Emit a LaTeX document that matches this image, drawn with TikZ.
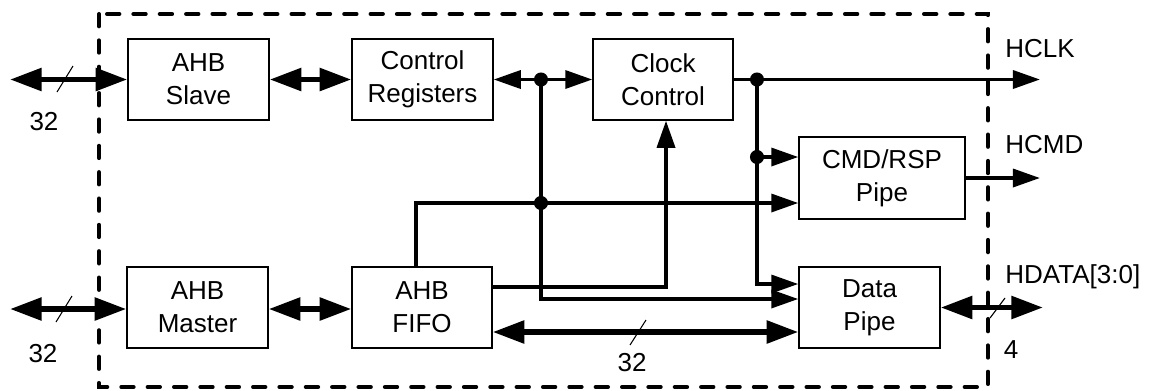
\documentclass[tikz,border=0pt]{standalone}
\usepackage{fontspec}
\setmainfont{Liberation Sans}
\usetikzlibrary{arrows.meta}
\begin{document}
\begin{tikzpicture}[x=0.02cm,y=-0.02cm,
  box/.style={draw,line width=0.8pt,inner sep=0pt,align=center,minimum height=1.62cm,font=\fontsize{14.8}{18.7}\selectfont},
  lbl/.style={inner sep=0pt,font=\fontsize{14.8}{18.7}\selectfont},
  sig/.style={line width=2.1pt,>={Triangle[length=15.4pt,width=10.2pt]}},
  bus/.style={line width=3.2pt,>={Triangle[length=18pt,width=12.5pt]}},
  slash/.style={line width=0.6pt},
  frame/.style={line width=2.3pt,dash pattern=on 7pt off 8pt,line cap=round},
  dot/.style={fill=black}
]
\useasboundingbox (0,0) rectangle (1158,390);
\draw[frame] (99,14) rectangle (988,387);

\node[box, minimum width=2.82cm] (slave) at (198.5,79.5) {AHB\\Slave};
\node[box, minimum width=2.82cm] (creg) at (422.5,79.5) {Control\\Registers};
\node[box, minimum width=2.80cm] (clk) at (663,79.5) {Clock\\Control};
\node[box, minimum width=3.32cm, minimum height=1.64cm] (cmd) at (882,178) {CMD/RSP\\Pipe};
\node[box, minimum width=2.82cm] (master) at (197.5,307.5) {AHB\\Master};
\node[box, minimum width=2.80cm] (fifo) at (422,307.5) {AHB\\FIFO};
\node[box, minimum width=2.82cm] (data) at (869.5,307.5) {Data\\Pipe};

\coordinate (inT) at (10,79.5);
\coordinate (inB) at (10,309);
\coordinate (hclk) at (1040,79.5);
\coordinate (hcmd) at (1040,178);
\coordinate (hdata) at (1043,309);
\coordinate (j1) at (541,79.5);
\coordinate (j2) at (541,203);
\coordinate (j3) at (757,79.5);
\coordinate (j4) at (757,157);
\coordinate (a1) at (541,299);
\coordinate (b1) at (757,284);
\coordinate (c0) at (416,203);
\coordinate (e1) at (666,287);
\coordinate (f1) at (600,332);

% buses
\draw[bus,<->] (inT) -- (slave.west);
\draw[bus,<->] (slave) -- (creg);
\draw[bus,<->] (inB) -- (master.west |- inB);
\draw[bus,<->] (master.east |- inB) -- (fifo.west |- inB);
\draw[bus,<->] (fifo.east |- f1) -- (data.west |- f1);
\draw[bus,<->] (data.east) -- (data.east -| hdata);

% signals
\draw[sig,<->] (creg) -- (clk);
\draw[sig,->] (clk.east) -- (hclk);
\draw[sig,->] (j1) -- (a1) -- (data.west |- a1);
\draw[sig,->] (j3) -- (b1) -- (data.west |- b1);
\draw[sig,->] (j4) -- (cmd.west |- j4);
\draw[sig,->] (fifo.north -| c0) -- (c0) -- (cmd.west |- c0);
\draw[sig,->] (fifo.east |- e1) -- (e1) -- (clk.south -| e1);
\draw[sig,->] (cmd.east) -- (cmd.east -| hcmd);

\fill[dot] (j1) circle[radius=4pt];
\fill[dot] (j2) circle[radius=4pt];
\fill[dot] (j3) circle[radius=4pt];
\fill[dot] (j4) circle[radius=4pt];

% bus width slashes
\draw[slash] (57,92) -- (73,66);
\draw[slash] (56,322) -- (72,296);
\draw[slash] (630,345) -- (646,320);
\draw[slash] (990,318) -- (1005,298);

\node[lbl,anchor=base] (w1) at (44,130) {32};
\node[lbl,anchor=base] (w2) at (43,362) {32};
\node[lbl,anchor=base] (w3) at (632,371) {32};
\node[lbl,anchor=base] (w4) at (1011,358) {4};

\node[lbl,anchor=base west] (lhclk) at (1005,57) {HCLK};
\node[lbl,anchor=base west] (lhcmd) at (1005,153) {HCMD};
\node[lbl,anchor=base west] (lhdata) at (1005,283) {HDATA[3:0]};
\end{tikzpicture}
\end{document}
